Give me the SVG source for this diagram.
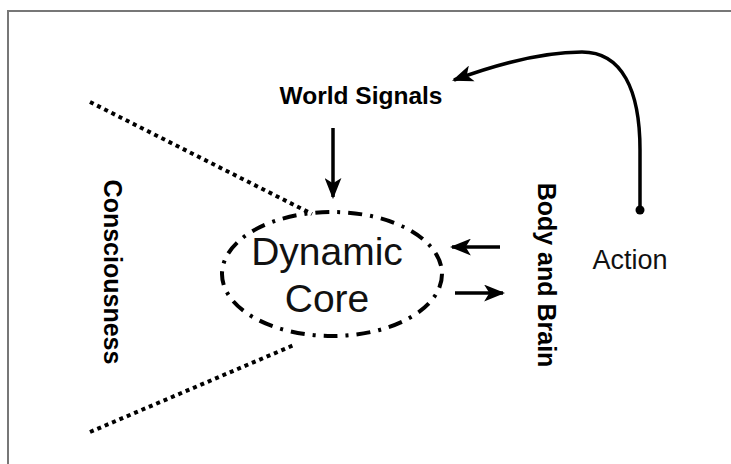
<svg xmlns="http://www.w3.org/2000/svg" width="731" height="464" viewBox="0 0 731 464">
<style>
.bold{font-family:"Liberation Sans",Arial,sans-serif;font-weight:bold;fill:#000}
.reg{font-family:"Liberation Sans",Arial,sans-serif;fill:#111}
.ln{stroke:#000;fill:none;stroke-width:3.5}
.dots{stroke:#000;fill:none;stroke-width:4;stroke-dasharray:4 4}
</style>
<defs>
<marker id="ah" viewBox="0 0 20 16" refX="18" refY="8" markerWidth="21" markerHeight="17" markerUnits="userSpaceOnUse" orient="auto">
<path d="M0,0 L20,8 L0,16 L5,8 Z" fill="#000"/>
</marker>
</defs>
<rect width="731" height="464" fill="#fff"/>
<path d="M8,464 V11 H731" stroke="#777" stroke-width="2" fill="none"/>
<g id="connectors">
<line class="dots" x1="90" y1="102" x2="312" y2="214"/>
<line class="dots" x1="90" y1="432" x2="294" y2="345"/>
<line class="ln" x1="333" y1="128" x2="333" y2="197" marker-end="url(#ah)"/>
<line class="ln" x1="500" y1="247" x2="452" y2="247" marker-end="url(#ah)"/>
<line class="ln" x1="455" y1="293" x2="503" y2="293" marker-end="url(#ah)"/>
<path class="ln" d="M640,210 L640,150 C640,90 622,52 582,52 C542,52 492,66 454,80" marker-end="url(#ah)"/>
<circle cx="640" cy="210" r="4.5" fill="#000"/>
</g>
<g id="core">
<ellipse cx="332" cy="274" rx="110" ry="62" fill="none" stroke="#000" stroke-width="4" stroke-dasharray="14 8 3 8"/>
<text class="reg" x="327" y="265" font-size="39" text-anchor="middle">Dynamic</text>
<text class="reg" x="327" y="312" font-size="39" text-anchor="middle">Core</text>
</g>
<g id="world-signals">
<text class="bold" x="361" y="104" font-size="24.5" text-anchor="middle">World Signals</text>
</g>
<g id="consciousness">
<text class="bold" transform="translate(104,272) rotate(90)" font-size="25" text-anchor="middle">Consciousness</text>
</g>
<g id="body-brain">
<text class="bold" transform="translate(538,275) rotate(90)" font-size="25" text-anchor="middle">Body and Brain</text>
</g>
<g id="action">
<text class="reg" x="630" y="269" font-size="27" text-anchor="middle">Action</text>
</g>
</svg>
